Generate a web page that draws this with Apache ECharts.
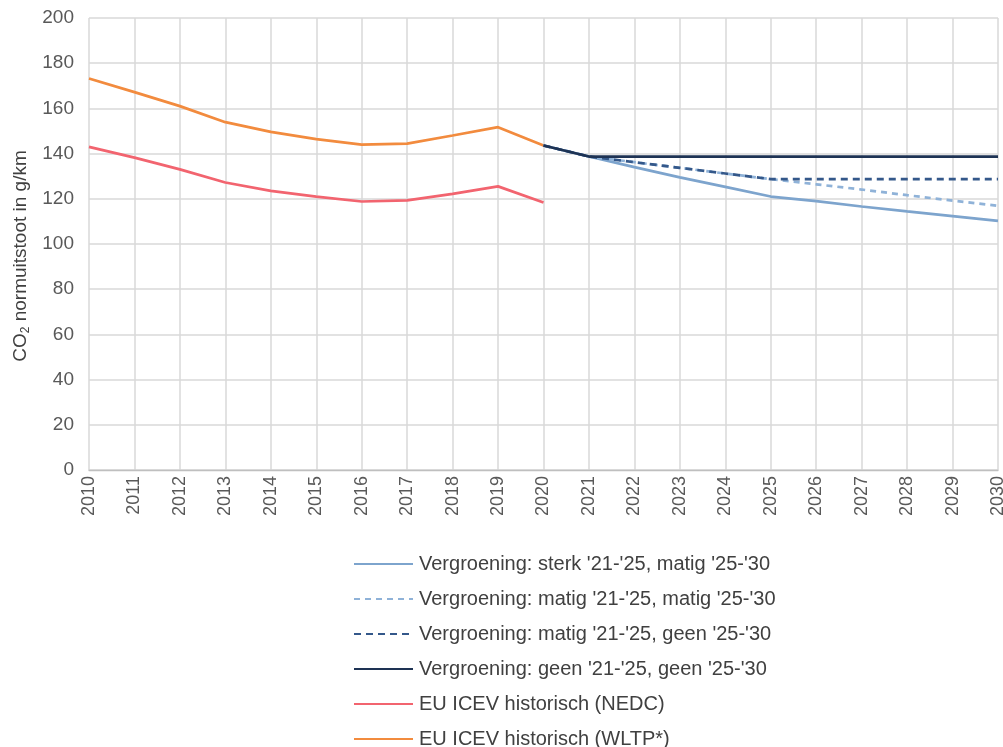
<!DOCTYPE html>
<html><head><meta charset="utf-8">
<script src="https://cdn.jsdelivr.net/npm/echarts@6/dist/echarts.min.js"></script>
<style>html,body{margin:0;padding:0;background:#fff}#c{width:1003px;height:747px}</style>
</head><body><div id="c"></div>
<script>
var years = ['2010','2011','2012','2013','2014','2015','2016','2017','2018','2019','2020','2021','2022','2023','2024','2025','2026','2027','2028','2029','2030'];
var sterkMatig = [null,null,null,null,null,null,null,null,null,null,143.6,138.7,134,129.5,125.3,121,119,116.6,114.4,112.3,110.2];
var matigMatig = [null,null,null,null,null,null,null,null,null,null,143.6,138.7,136.2,133.7,131.2,128.7,126.4,124.1,121.6,119.2,116.9];
var matigGeen  = [null,null,null,null,null,null,null,null,null,null,143.6,138.7,136.2,133.7,131.2,128.7,128.7,128.7,128.7,128.7,128.7];
var geenGeen   = [null,null,null,null,null,null,null,null,null,null,143.6,138.7,138.7,138.7,138.7,138.7,138.7,138.7,138.7,138.7,138.7];
var nedc = [143,138.2,133,127.2,123.5,121,118.8,119.3,122.2,125.5,118.4];
var wltp = [173.2,167.2,161,153.9,149.6,146.4,144,144.4,148,151.7,143.6];
var names = ["Vergroening: sterk '21-'25, matig '25-'30","Vergroening: matig '21-'25, matig '25-'30","Vergroening: matig '21-'25, geen '25-'30","Vergroening: geen '21-'25, geen '25-'30","EU ICEV historisch (NEDC)","EU ICEV historisch (WLTP*)"];
var yTicks = {min:0,max:200,interval:20};

var font = '"Liberation Sans", Arial, sans-serif';
function s(name, data, color, type, z){
  return {name:name,type:'line',data:data,symbol:'none',smooth:false,z:z,
    lineStyle:{color:color,width:2.7,type:type},itemStyle:{color:color}};
}
var legends = names.map(function(n, i){
  return {orient:'vertical',left:353,top:554+35*i,padding:0,itemWidth:59,itemHeight:2,
    itemStyle:{opacity:0},
    textStyle:{color:'#404040',fontSize:20,fontFamily:font,padding:[0,0,0,1]},
    data:[n]};
});
var chart = echarts.init(document.getElementById('c'));
chart.setOption({
  animation:false,
  textStyle:{fontFamily:font},
  grid:{left:89,right:5,top:18,bottom:277,containLabel:false,outerBoundsMode:'none'},
  xAxis:{type:'category',data:years,boundaryGap:false,
    axisLine:{show:true,lineStyle:{color:'#bfbfbf',width:1.3}},
    axisTick:{show:false},
    splitLine:{show:true,lineStyle:{color:'#d9d9d9',width:1.5}},
    axisLabel:{rotate:90,color:'#595959',fontSize:18,margin:6,fontFamily:font,interval:0}},
  yAxis:{type:'value',min:yTicks.min,max:yTicks.max,interval:yTicks.interval,
    axisLine:{show:false},axisTick:{show:false},
    splitLine:{lineStyle:{color:'#d9d9d9',width:1.5}},
    axisLabel:{color:'#595959',fontSize:19,margin:15,fontFamily:font},
    name:'CO{sub|2} normuitstoot in g/km',nameLocation:'middle',nameGap:52,
    nameTextStyle:{color:'#404040',fontSize:19,fontFamily:font,padding:[0,24,0,0],
      rich:{sub:{fontSize:12,padding:[10,0,0,0],color:'#404040',fontFamily:font}}}},
  legend:legends,
  series:[
    s(names[0],sterkMatig,'#7DA4CD','solid',3),
    s(names[1],matigMatig,'#8FB2D8',[6,5],3),
    s(names[2],matigGeen,'#34588A',[7,5],4),
    s(names[3],geenGeen,'#1E3354','solid',5),
    s(names[4],nedc,'#F2646F','solid',2),
    s(names[5],wltp,'#F28B3E','solid',2)
  ]
});
</script></body></html>
